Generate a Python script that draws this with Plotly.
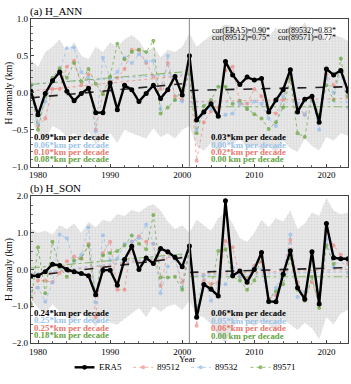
import plotly.graph_objects as go

# ---------------- data ----------------
years = list(range(1979, 2024))

# Panel (a) H_ANN
era5_a = [0.02, -0.30, -0.01, 0.16, 0.28, 0.02, -0.11, -0.01, 0.06, -0.27, -0.27, 0.13, -0.23, 0.10, 0.04,
          -0.12, -0.01, 0.10, -0.08, 0.04, 0.22, -0.03, 0.50, -0.37, -0.26, -0.15, -0.32, 0.42, 0.24, 0.11,
          0.21, 0.17, 0.19, -0.26, -0.10, 0.04, 0.31, -0.26, -0.09, -0.05, -0.40, 0.32, 0.24, 0.30, 0.02]
s89512_a = [0.12, -0.45, -0.35, 0.05, 0.05, 0.35, 0.43, 0.10, 0.25, -0.50, 0.00, 0.15, 0.20, 0.32, 0.58,
            0.58, 0.40, 0.22, 0.05, 0.40, -0.05, -0.10, 0.30, -0.92, -0.40, -0.25, -0.20, 0.30, 0.35, -0.15,
            -0.15, 0.05, -0.05, -0.25, -0.28, -0.10, 0.20, -0.20, -0.30, -0.10, -0.35, 0.25, 0.10, 0.30, -0.05]
s89532_a = [0.05, -0.42, -0.12, 0.15, 0.30, 0.60, 0.61, 0.28, 0.20, -0.52, 0.47, 0.20, 0.28, 0.47, 0.40,
            0.52, 0.42, 0.43, -0.22, 0.50, -0.10, -0.12, 0.35, -0.50, -0.28, -0.22, -0.32, -0.30, -0.28, -0.15,
            -0.22, -0.12, -0.15, -0.35, -0.45, -0.05, 0.25, -0.15, -0.30, -0.08, -0.50, 0.20, 0.00, 0.28, -0.20]
s89571_a = [0.10, -0.50, -0.05, 0.20, 0.33, 0.20, 0.40, 0.15, 0.32, 0.12, -0.02, 0.22, 0.66, 0.45, 0.55,
            0.58, 0.55, 0.70, -0.28, -0.20, -0.10, 0.05, 0.25, -0.55, -0.18, -0.10, 0.08, 0.08, -0.15, -0.11,
            -0.22, -0.29, -0.35, -0.49, -0.40, -0.20, 0.18, -0.55, -0.60, -0.05, -0.30, 0.10, -0.10, 0.46, -0.05]
upper_a = [0.45, 0.35, 0.55, 0.62, 0.72, 0.55, 0.68, 0.50, 0.45, 0.62, 0.55, 0.68, 0.62, 0.72, 0.78,
           0.70, 0.55, 0.62, 0.48, 0.58, 0.55, 0.62, 0.80, 0.62, 0.70, 0.78, 0.85, 0.92, 0.90, 0.78,
           0.88, 0.82, 0.90, 0.75, 0.88, 0.80, 0.92, 0.82, 0.95, 0.78, 0.88, 0.70, 0.78, 0.75, 0.70]
lower_a = [-0.35, -0.55, -0.65, -0.45, -0.50, -0.60, -0.55, -0.62, -0.52, -0.70, -0.62, -0.55, -0.68, -0.50, -0.55,
           -0.58, -0.62, -0.48, -0.60, -0.55, -0.62, -0.50, -0.45, -0.72, -0.78, -0.68, -0.82, -0.65, -0.70, -0.62,
           -0.75, -0.70, -0.78, -0.72, -0.82, -0.65, -0.75, -0.80, -0.62, -0.72, -0.78, -0.60, -0.65, -0.55, -0.58]

# Panel (b) H_SON
era5_b = [-0.18, -0.17, -0.06, 0.14, 0.11, 0.00, -0.06, -0.11, -0.17, -0.69, -0.02, -0.02, -0.43, 0.27, 0.63,
          0.00, 0.31, 0.16, 0.57, 0.48, 0.33, 0.07, 0.64, -1.30, -0.41, -0.54, -0.72, 1.87, -0.17, -0.04,
          -0.35, 0.00, 0.46, -0.87, -0.88, -0.13, 0.51, -0.50, -0.81, 0.48, -0.94, 1.25, 0.32, 0.29, 0.29]
s89512_b = [-1.00, -0.30, -0.30, -0.35, -0.10, 0.22, 0.35, 0.30, 0.70, -1.30, 0.45, 0.75, -0.55, -0.55, 0.75,
            0.90, 0.75, 0.70, -0.45, 0.45, 0.30, -0.35, 0.58, -1.53, -0.30, -0.40, -0.35, 0.77, 0.60, -0.20,
            -0.25, 0.10, 0.20, -0.80, -0.70, -0.10, 0.80, -0.35, -0.75, -0.35, -0.90, 1.05, 0.65, 0.40, 0.15]
s89532_b = [-0.60, -0.50, -0.88, -0.35, 0.95, 0.85, 0.20, 0.40, 1.15, -0.90, 0.93, 0.25, 0.30, 0.70, 0.75,
            0.85, 1.22, 0.70, -0.65, 0.08, 0.30, -0.50, 0.55, -1.00, -0.15, -0.85, -0.40, -0.40, 0.05, -0.20,
            -0.30, 0.05, 0.00, -0.90, -0.50, -0.10, 0.95, -0.75, -0.60, 0.25, -0.95, 0.82, 0.05, 0.30, -0.10]
s89571_b = [-0.94, 0.60, -0.65, 0.75, 0.05, -0.20, 0.25, 0.30, 0.65, -0.70, 0.38, 0.45, 0.50, 0.65, 0.92,
            0.70, 0.55, 1.48, -0.22, -0.22, -0.20, -0.55, 0.50, -1.15, -0.40, -0.50, 0.50, 0.55, -0.20, -0.30,
            -0.55, -0.30, 0.35, -0.80, -0.60, -0.40, 0.30, -0.55, -0.85, -0.20, -1.05, 0.65, 0.15, 0.30, 0.25]
upper_b = [1.10, 1.00, 1.05, 0.95, 1.20, 1.10, 1.25, 1.00, 1.30, 1.15, 1.35, 1.30, 1.50, 1.45, 1.62,
           1.55, 1.70, 1.78, 1.60, 1.30, 1.10, 1.20, 1.00, 1.35, 1.20, 1.05, 1.40, 1.55, 1.25, 0.85,
           0.75, 1.00, 1.35, 1.15, 1.40, 1.30, 1.60, 1.10, 1.25, 1.55, 1.45, 1.95, 1.60, 1.50, 1.55]
lower_b = [-0.80, -1.05, -1.20, -0.95, -1.15, -1.30, -1.40, -1.20, -1.30, -1.55, -1.25, -1.45, -1.50, -1.35, -1.20,
           -1.05, -1.30, -1.00, -1.15, -1.00, -0.95, -1.10, -0.85, -1.25, -1.30, -1.50, -1.80, -2.00, -1.60, -1.30,
           -1.45, -1.55, -1.40, -1.50, -1.70, -1.35, -1.50, -1.65, -1.45, -1.60, -1.90, -1.30, -1.50, -1.20, -1.10]

# trend lines (order: ERA5, 89512, 89532, 89571): value at period start / end
period1 = [1979, 2000]
period2 = [2001, 2023]
trend_a_p1 = [[-0.07, 0.12], [0.02, 0.23], [0.12, 0.25], [0.11, 0.28]]
trend_a_p2 = [[0.03, 0.08], [-0.12, -0.08], [-0.13, -0.13], [-0.19, -0.19]]
trend_b_p1 = [[-0.18, 0.32], [-0.15, 0.37], [-0.12, 0.40], [0.04, 0.42]]
trend_b_p2 = [[-0.08, 0.05], [-0.13, 0.00], [-0.17, -0.06], [-0.20, -0.20]]

# trend text, in display order: ERA5, 89532, 89512, 89571
label_order = ["ERA5", "89532", "89512", "89571"]
labels_a_p1 = ["0.09*km per decade", "0.06*km per decade", "0.10*km per decade", "0.08*km per decade"]
labels_a_p2 = ["0.03*km per decade", "0.00*km per decade", "0.02*km per decade", "0.00 km per decade"]
labels_b_p1 = ["0.24*km per decade", "0.25*km per decade", "0.25*km per decade", "0.18*km per decade"]
labels_b_p2 = ["0.06*km per decade", "0.05*km per decade", "0.06*km per decade", "0.00 km per decade"]
cor_text = [["cor(ERA5)=0.90*", "cor(89512)=0.75*"], ["cor(89532)=0.83*", "cor(89571)=0.77*"]]

series_names = ["ERA5", "89512", "89532", "89571"]
panel_titles = ["(a) H_ANN", "(b) H_SON"]
xtick_vals = [1980, 1990, 2000, 2010, 2020]
break_year = 2001

# ---------------- styles ----------------
W, H = 351, 384
FONT = "Liberation Serif"
def px(x):
    return x / W
def py(y):
    return 1 - y / H

line_col = {"ERA5": "black", "89512": "rgba(236,130,122,0.65)",
            "89532": "rgba(150,190,235,0.75)", "89571": "rgba(108,168,68,0.75)"}
text_col = {"ERA5": "black", "89512": "#e8776c", "89532": "#9cc2ea", "89571": "#64a23e"}
trend_dash = {"ERA5": "dash", "89512": "dot", "89532": "dot", "89571": "dashdot"}

fig = go.Figure()

panels = [
    dict(era5=era5_a, s=[s89512_a, s89532_a, s89571_a], up=upper_a, lo=lower_a,
         t1=trend_a_p1, t2=trend_a_p2, xa="x", ya="y"),
    dict(era5=era5_b, s=[s89512_b, s89532_b, s89571_b], up=upper_b, lo=lower_b,
         t1=trend_b_p1, t2=trend_b_p2, xa="x2", ya="y2"),
]

for pi, p in enumerate(panels):
    xa, ya = p["xa"], p["ya"]
    fig.add_trace(go.Scatter(x=years, y=p["up"], mode="lines", line=dict(width=0, color="rgba(0,0,0,0)"),
                             hoverinfo="skip", showlegend=False, xaxis=xa, yaxis=ya))
    fig.add_trace(go.Scatter(x=years, y=p["lo"], mode="lines", line=dict(width=0, color="rgba(0,0,0,0)"),
                             fill="tonexty", fillcolor="rgba(228,228,228,0.9)",
                             fillpattern=dict(shape=".", fgcolor="#c2c2c2", bgcolor="#e9e9e9",
                                              size=3, solidity=0.3),
                             hoverinfo="skip", showlegend=False, xaxis=xa, yaxis=ya))
    for k, name in enumerate(series_names[1:]):
        fig.add_trace(go.Scatter(x=years, y=p["s"][k], mode="lines+markers", name=name,
                                 line=dict(color=line_col[name], width=1, dash="dot"),
                                 marker=dict(color=line_col[name], size=4),
                                 showlegend=False, xaxis=xa, yaxis=ya))
    for k, name in enumerate(series_names):
        for per, tr in ((period1, p["t1"]), (period2, p["t2"])):
            fig.add_trace(go.Scatter(x=per, y=tr[k], mode="lines",
                                     line=dict(color=line_col[name] if name != "ERA5" else "#222",
                                               width=1.6 if name == "ERA5" else 1.1,
                                               dash=trend_dash[name]),
                                     hoverinfo="skip", showlegend=False, xaxis=xa, yaxis=ya))
    fig.add_trace(go.Scatter(x=years, y=p["era5"], mode="lines+markers", name="ERA5",
                             line=dict(color="black", width=2.4), marker=dict(color="black", size=5),
                             showlegend=False, xaxis=xa, yaxis=ya))

xdom = [px(29), px(348)]
axis_common = dict(showline=True, linecolor="#444", linewidth=1, mirror=True, ticks="inside",
                   ticklen=3, tickcolor="#444", showgrid=False, zeroline=False,
                   tickfont=dict(family=FONT, size=9, color="black"))
fig.update_layout(
    width=W, height=H, margin=dict(l=0, r=0, t=0, b=0),
    paper_bgcolor="white", plot_bgcolor="white",
    font=dict(family=FONT, size=9, color="black"),
    xaxis=dict(domain=xdom, range=[1979, 2023], tickvals=xtick_vals, anchor="y",
               minor=dict(dtick=2, ticks="inside", ticklen=2, tickcolor="#666"), **axis_common),
    yaxis=dict(domain=[py(166), py(14)], range=[-1, 1], dtick=0.5, tickformat=".1f", anchor="x",
               minor=dict(dtick=0.1, ticks="inside", ticklen=2, tickcolor="#666"), **axis_common),
    xaxis2=dict(domain=xdom, range=[1979, 2023], tickvals=xtick_vals, anchor="y2",
                minor=dict(dtick=2, ticks="inside", ticklen=2, tickcolor="#666"), **axis_common),
    yaxis2=dict(domain=[py(347), py(196)], range=[-2, 2], dtick=1, tickformat=".1f", anchor="x2",
                minor=dict(dtick=0.25, ticks="inside", ticklen=2, tickcolor="#666"), **axis_common),
    showlegend=False,
)

shapes = []
for xr, yr in (("x", "y"), ("x2", "y2")):
    shapes.append(dict(type="line", x0=break_year, x1=break_year, y0=0, y1=1, xref=xr, yref=yr + " domain",
                       line=dict(color="#999", width=1.2)))

# manual legend (symbol start x, text x) in pixels
legend_pos = {"ERA5": (73, 97), "89512": (132, 155), "89532": (190, 213), "89571": (250, 272)}
LEG_Y = 372
ann = []
for name in series_names:
    sx, tx = legend_pos[name]
    is_era = name == "ERA5"
    shapes.append(dict(type="line", xref="paper", yref="paper", x0=px(sx), x1=px(sx + 20),
                       y0=py(LEG_Y), y1=py(LEG_Y),
                       line=dict(color=line_col[name], width=2.4 if is_era else 1,
                                 dash="solid" if is_era else "dot")))
    r = 2.5 if is_era else 2
    cx = sx + 10
    shapes.append(dict(type="circle", xref="paper", yref="paper", x0=px(cx - r), x1=px(cx + r),
                       y0=py(LEG_Y + r), y1=py(LEG_Y - r), fillcolor=line_col[name],
                       line=dict(width=0)))
    ann.append(dict(text=name, x=px(tx), y=py(LEG_Y), xanchor="left", yanchor="middle", size=9))
fig.update_layout(shapes=shapes)

ann.append(dict(text=panel_titles[0], x=px(27), y=py(7), xanchor="left", yanchor="middle", size=11))
ann.append(dict(text=panel_titles[1], x=px(27), y=py(188), xanchor="left", yanchor="middle", size=11))
for yc in (90, 271):
    ann.append(dict(text="H anomaly (km)", x=px(8), y=py(yc), textangle=-90, xanchor="center",
                    yanchor="middle", size=9.5))
ann.append(dict(text="Year", x=px(187), y=py(363), xanchor="center", yanchor="middle", size=9))
for ci, col in enumerate(cor_text):
    for li, t in enumerate(col):
        ann.append(dict(text=t, x=px(210 + ci * 67), y=py(26 + li * 7.5), xanchor="left",
                        yanchor="middle", size=8))
for labs, x0, ys in ((labels_a_p1, 31, [136, 143.4, 150.8, 158.2]),
                     (labels_a_p2, 209, [136, 143.4, 150.8, 158.2]),
                     (labels_b_p1, 31, [316, 323.6, 331.4, 339.2]),
                     (labels_b_p2, 209, [316.5, 324.1, 331.9, 339.5])):
    for li, nm in enumerate(label_order):
        ann.append(dict(text="<b>" + labs[li] + "</b>", x=px(x0), y=py(ys[li]),
                        xanchor="left", yanchor="middle", size=8.8, color=text_col[nm]))
final = []
for a in ann:
    size = a.pop("size")
    color = a.pop("color", "black")
    a.update(xref="paper", yref="paper", showarrow=False, borderpad=0,
             font=dict(family=FONT, size=size, color=color))
    final.append(a)
fig.update_layout(annotations=final)

fig.write_html("out.html")
